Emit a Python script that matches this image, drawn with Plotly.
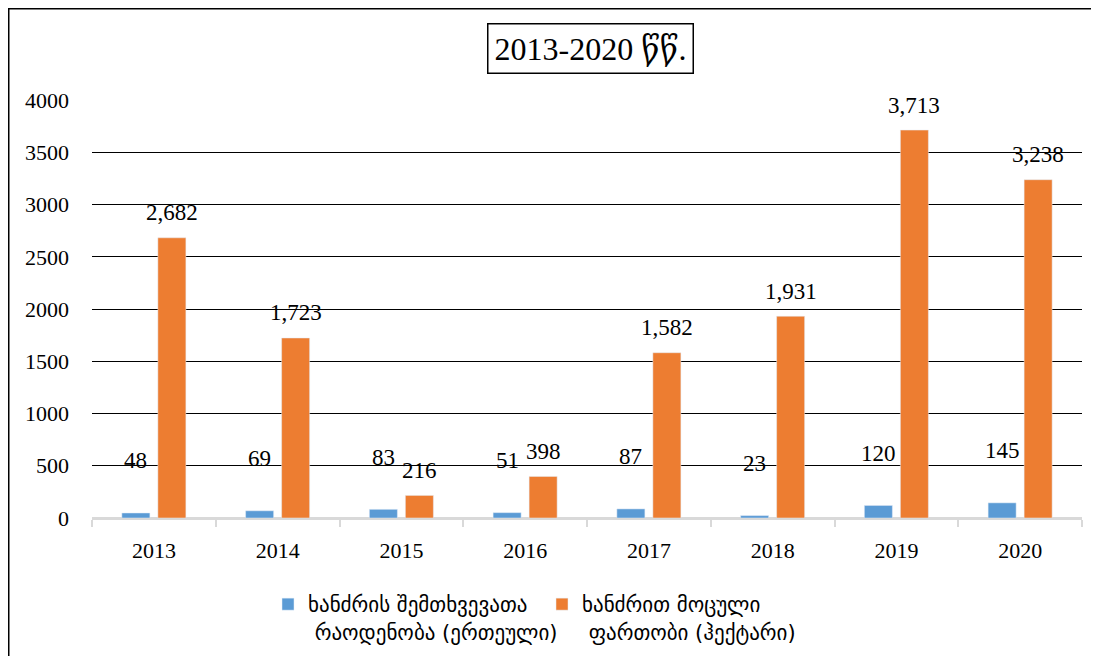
import plotly.graph_objects as go

years = ["2013", "2014", "2015", "2016", "2017", "2018", "2019", "2020"]
fires_count = [48, 69, 83, 51, 87, 23, 120, 145]
burned_area = [2682, 1723, 216, 398, 1582, 1931, 3713, 3238]
series_names = ["ხანძრის შემთხვევათა<br> რაოდენობა (ერთეული)",
                "ხანძრით მოცული<br> ფართობი (ჰექტარი)"]
title_text = "2013-2020 წწ."
y_ticks = [0, 500, 1000, 1500, 2000, 2500, 3000, 3500, 4000]

BLUE = "#5B9BD5"
ORANGE = "#ED7D31"
SERIF = "Liberation Serif, DejaVu Serif, serif"
GEO = "DejaVu Sans, sans-serif"

# page has an 8px body margin; keep the figure inside the window to avoid scrollbars
OFF = 8
W, H = 1099 - 2 * OFF, 664 - 2 * OFF
L = 92 - OFF
T = 100 - OFF
R = W - (1082 - OFF)
B = H - (518 - OFF)
pw, ph = W - L - R, H - T - B

def px_x(x):
    return (x - OFF - L) / pw

def px_y(y):
    return 1 - (y - OFF - T) / ph

fig = go.Figure()
fig.add_trace(go.Bar(x=years, y=fires_count, name=series_names[0], marker_color=BLUE))
fig.add_trace(go.Bar(x=years, y=burned_area, name=series_names[1], marker_color=ORANGE))

annotations = []
for i, v in enumerate(fires_count):
    annotations.append(dict(x=i, y=v, xref="x", yref="y", text=f"{v}", showarrow=False,
                            xshift=-18, yshift=52, yanchor="middle",
                            font=dict(family=SERIF, size=23, color="#000")))
for i, v in enumerate(burned_area):
    annotations.append(dict(x=i, y=v, xref="x", yref="y", text=f"{v:,}", showarrow=False,
                            xshift=18, yshift=25, yanchor="middle",
                            font=dict(family=SERIF, size=23, color="#000")))
annotations.append(dict(x=px_x(590), y=px_y(48), xref="paper", yref="paper", text=title_text,
                        showarrow=False, xanchor="center", yanchor="middle",
                        font=dict(family=SERIF, size=32, color="#000"),
                        bordercolor="#000", borderwidth=1.5, borderpad=6, bgcolor="white"))

shapes = [
    dict(type="line", xref="paper", yref="paper", x0=px_x(8), x1=px_x(1091), y0=px_y(8.5), y1=px_y(8.5),
         line=dict(color="#000", width=2)),
    dict(type="line", xref="paper", yref="paper", x0=px_x(8.5), x1=px_x(8.5), y0=px_y(8), y1=px_y(656),
         line=dict(color="#000", width=2)),
]

fig.update_layout(
    width=W, height=H,
    margin=dict(l=L, r=R, t=T, b=B, autoexpand=False),
    paper_bgcolor="white", plot_bgcolor="white",
    barmode="group", bargap=0.418, bargroupgap=0.222,
    annotations=annotations, shapes=shapes,
    showlegend=True,
    legend=dict(orientation="h", x=px_x(268), y=px_y(584), xanchor="left", yanchor="top",
                font=dict(family=GEO, size=21, color="#000"), entrywidth=229, itemwidth=30,
                valign="top", traceorder="normal"),
)
fig.update_xaxes(
    type="category", range=[-0.5, 7.5], showline=True, linecolor="#d9d9d9", linewidth=1.5,
    ticks="outside", tickson="boundaries", ticklen=7, tickcolor="#d9d9d9", tickwidth=1.5,
    tickangle=0, automargin=False,
    ticklabelstandoff=12, tickfont=dict(family=SERIF, size=22, color="#000"), showgrid=False,
)
fig.update_yaxes(
    range=[0, 4001], tickvals=y_ticks, tickformat="d", automargin=False,
    showgrid=True, gridcolor="#000", gridwidth=1.4,
    zeroline=True, zerolinecolor="#d9d9d9", zerolinewidth=1.5,
    showline=False, ticklabelstandoff=22,
    tickfont=dict(family=SERIF, size=22, color="#000"),
)

fig.write_html("out.html", config={"displayModeBar": False})
